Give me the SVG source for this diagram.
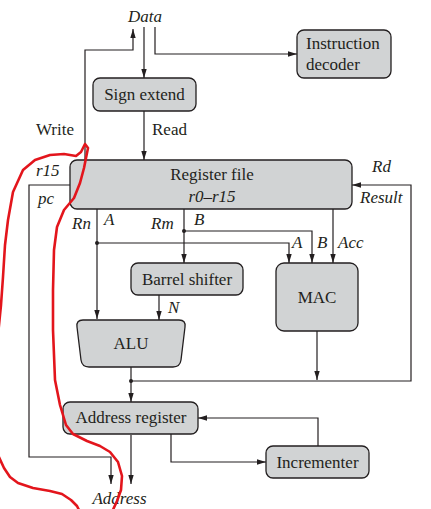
<svg xmlns="http://www.w3.org/2000/svg" width="431" height="509" viewBox="0 0 431 509">
<style>
.box{fill:#d1d3d4;stroke:#231f20;stroke-width:1.3}
.t{font-family:"Liberation Serif","Times New Roman",serif;font-size:17px;fill:#231f20}
.c{text-anchor:middle}
.i{font-style:italic}
.w{fill:none;stroke:#231f20;stroke-width:1.2}
.dot{fill:#231f20}
.red{fill:none;stroke:#e3151c;stroke-width:2.6;stroke-linejoin:round;stroke-linecap:round}
</style>
<defs>
<marker id="ah" viewBox="0 0 10 6" refX="10" refY="3" markerWidth="9" markerHeight="5.5" markerUnits="userSpaceOnUse" orient="auto">
<path d="M0,0 L10,3 L0,6 z" fill="#231f20"/>
</marker>
</defs>
<rect width="431" height="509" fill="#ffffff"/>

<g id="connectors">
<path class="w" d="M85,161 V50 H133 V29" marker-end="url(#ah)"/>
<path class="w" d="M144,27 V78" marker-end="url(#ah)"/>
<path class="w" d="M155,27 V54 H297" marker-end="url(#ah)"/>
<path class="w" d="M144,111 V160" marker-end="url(#ah)"/>
<path class="w" d="M70,185 H29 V457 H111 V484" marker-end="url(#ah)"/>
<path class="w" d="M131,435 V484" marker-end="url(#ah)"/>
<path class="w" d="M97,209 V319" marker-end="url(#ah)"/>
<path class="w" d="M97,243 H289 V263" marker-end="url(#ah)"/>
<path class="w" d="M184,209 V263" marker-end="url(#ah)"/>
<path class="w" d="M184,231 H312 V263" marker-end="url(#ah)"/>
<path class="w" d="M333,209 V263" marker-end="url(#ah)"/>
<path class="w" d="M159,295 V320" marker-end="url(#ah)"/>
<path class="w" d="M131,367 V402" marker-end="url(#ah)"/>
<path class="w" d="M317,331 V380" marker-end="url(#ah)"/>
<path class="w" d="M131,381 H411 V185 H352" marker-end="url(#ah)"/>
<path class="w" d="M171,434 V462 H266" marker-end="url(#ah)"/>
<path class="w" d="M318,446 V418 H198" marker-end="url(#ah)"/>
<circle class="dot" cx="97" cy="243" r="2"/>
<circle class="dot" cx="184" cy="231" r="2"/>
<circle class="dot" cx="131" cy="381" r="2"/>
</g>

<g id="decoder">
<rect class="box" x="297" y="30" width="94" height="48" rx="7"/>
<text class="t" x="306" y="49">Instruction</text>
<text class="t" x="306" y="70">decoder</text>
</g>
<g id="signext">
<rect class="box" x="93" y="78" width="103" height="33" rx="7"/>
<text class="t c" x="144.5" y="100">Sign extend</text>
</g>
<g id="regfile">
<rect class="box" x="70" y="160" width="282" height="49" rx="7"/>
<text class="t c" x="212" y="180">Register file</text>
<text class="t c i" x="212" y="202">r0–r15</text>
</g>
<g id="barrel">
<rect class="box" x="131" y="263" width="112" height="32" rx="7"/>
<text class="t c" x="187" y="285">Barrel shifter</text>
</g>
<g id="mac">
<rect class="box" x="276" y="263" width="82" height="68" rx="8"/>
<text class="t c" x="317" y="303">MAC</text>
</g>
<g id="alu">
<path class="box" d="M83,320 H179 Q186,320 185,327 L181,360 Q180,367 173,367 H89 Q82,367 81,360 L77,327 Q76,320 83,320 Z"/>
<text class="t c" x="131" y="349">ALU</text>
</g>
<g id="addrreg">
<rect class="box" x="63" y="402" width="135" height="32" rx="7"/>
<text class="t c" x="131" y="423">Address register</text>
</g>
<g id="incrementer">
<rect class="box" x="266" y="446" width="103" height="32" rx="7"/>
<text class="t c" x="317.5" y="468">Incrementer</text>
</g>

<g id="labels">
<text class="t c i" x="145" y="22">Data</text>
<text class="t" x="36" y="135">Write</text>
<text class="t" x="152" y="135">Read</text>
<text class="t i" x="36" y="176">r15</text>
<text class="t i" x="38" y="204">pc</text>
<text class="t i" x="372" y="172">Rd</text>
<text class="t i" x="360" y="203">Result</text>
<text class="t i" x="72" y="229">Rn</text>
<text class="t i" x="104" y="225">A</text>
<text class="t i" x="151" y="229">Rm</text>
<text class="t i" x="194" y="225">B</text>
<text class="t i" x="292" y="248">A</text>
<text class="t i" x="317" y="248">B</text>
<text class="t i" x="338" y="248">Acc</text>
<text class="t i" x="168" y="313">N</text>
<text class="t c i" x="119.5" y="504">Address</text>
</g>

<g id="scribble">
<path class="red" d="M-2,335 L1,305 L3,277 L5,245 L8,220 L13,192 L23,170 L35,160 L50,155 L64,154 L76,156 L81,152 L85,144 L88,148 L86,158 L84,168 L80,183 L74,198 L64,210 L57,227 L54,250 L53,290 L53,330 L55,380 L60,405 L66,425 L73,434 L87,441 L100,446 L110,452 L118,462 L122,476 L121,490 L117,501 L112,512"/>
<path class="red" d="M-2,455 L4,468 L10,477 L18,483 L33,488 L50,491 L62,494 L71,500 L77,506 L80,512"/>
</g>
</svg>
